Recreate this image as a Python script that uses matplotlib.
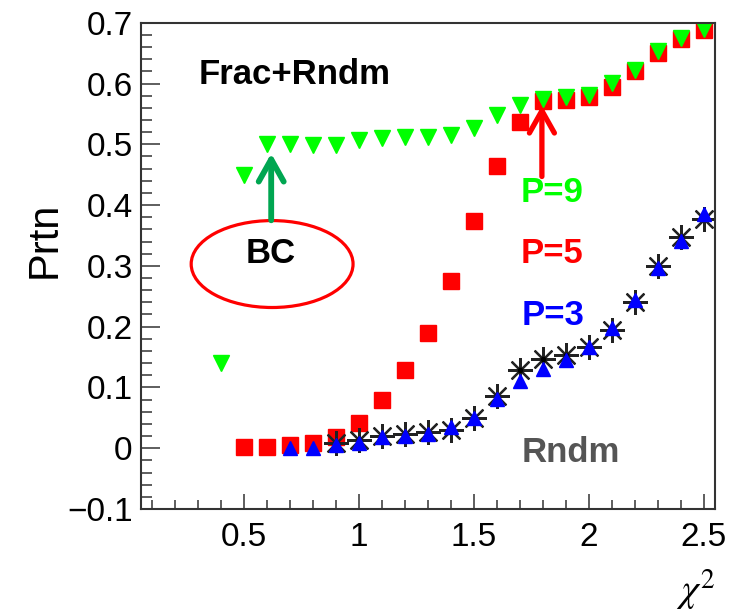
## Prtn vs chi2 for Frac+Rndm

import matplotlib
matplotlib.use('Agg')
import matplotlib.pyplot as plt
from matplotlib.patches import Ellipse
from matplotlib.ticker import MultipleLocator, FuncFormatter

plt.rcParams['font.family'] = ['Liberation Sans', 'DejaVu Sans']
plt.rcParams['mathtext.fontset'] = 'stix'

# P=9 (green)
x_p9 = [0.4, 0.5, 0.6, 0.7, 0.8, 0.9, 1.0, 1.1, 1.2, 1.3, 1.4,
        1.5, 1.6, 1.7, 1.8, 1.9, 2.0, 2.1, 2.2, 2.3, 2.4, 2.5]
y_p9 = [0.140, 0.449, 0.500, 0.500, 0.499, 0.499, 0.507, 0.511, 0.512, 0.512, 0.516,
        0.526, 0.548, 0.565, 0.575, 0.577, 0.581, 0.601, 0.623, 0.653, 0.675, 0.690]

# P=5 (red)
x_p5 = [0.5, 0.6, 0.7, 0.8, 0.9, 1.0, 1.1, 1.2, 1.3, 1.4,
        1.5, 1.6, 1.7, 1.8, 1.9, 2.0, 2.1, 2.2, 2.3, 2.4, 2.5]
y_p5 = [0.002, 0.002, 0.006, 0.009, 0.019, 0.042, 0.079, 0.128, 0.189, 0.275,
        0.374, 0.464, 0.537, 0.571, 0.573, 0.577, 0.595, 0.620, 0.651, 0.673, 0.688]

# P=3 (blue)
x_p3 = [0.7, 0.8, 0.9, 1.0, 1.1, 1.2, 1.3, 1.4, 1.5, 1.6,
        1.7, 1.8, 1.9, 2.0, 2.1, 2.2, 2.3, 2.4, 2.5]
y_p3 = [0.0, 0.0, 0.005, 0.008, 0.018, 0.020, 0.023, 0.035, 0.050, 0.081,
        0.110, 0.131, 0.145, 0.167, 0.197, 0.244, 0.296, 0.341, 0.385]

# Rndm (black stars)
x_rn = [0.9, 1.0, 1.1, 1.2, 1.3, 1.4, 1.5, 1.6, 1.7,
        1.8, 1.9, 2.0, 2.1, 2.2, 2.3, 2.4, 2.5]
y_rn = [0.009, 0.013, 0.020, 0.024, 0.027, 0.030, 0.050, 0.086, 0.128,
        0.147, 0.154, 0.166, 0.194, 0.241, 0.300, 0.347, 0.377]

fig = plt.figure(figsize=(7.36, 6.16), dpi=100)
ax = fig.add_axes([0.1916, 0.1737, 0.7799, 0.7894])

ax.plot(x_p5, y_p5, ls='none', marker='s', ms=11, color='#ff0000', mec='#ff0000')
ax.plot(x_rn, y_rn, ls='none', marker=(8, 2, 0), ms=18, color='#222222', mew=1.6)
ax.plot(x_rn, y_rn, ls='none', marker='o', ms=3, color='black')
ax.plot(x_p3, y_p3, ls='none', marker='^', ms=10, color='#0000ff', mec='#0000ff')
ax.plot(x_p9, y_p9, ls='none', marker='v', ms=11.5, color='#00ff00', mec='#00ff00')

ax.set_xlim(0.05, 2.55)
ax.set_ylim(-0.1, 0.7)

ax.xaxis.set_major_locator(MultipleLocator(0.5))
ax.xaxis.set_minor_locator(MultipleLocator(0.1))
ax.yaxis.set_major_locator(MultipleLocator(0.1))
ax.yaxis.set_minor_locator(MultipleLocator(0.02))

def fmt(v, pos):
    s = '%g' % round(v, 3)
    return s.replace('-', '\u2212')

ax.xaxis.set_major_formatter(FuncFormatter(fmt))
ax.yaxis.set_major_formatter(FuncFormatter(fmt))

ax.tick_params(axis='both', which='both', direction='in', top=False, right=False,
               labelsize=24, colors='#333333', labelcolor='black', width=1.1)
ax.tick_params(axis='y', which='major', length=13.7, pad=6)
ax.tick_params(axis='y', which='minor', length=7.9)
ax.tick_params(axis='x', which='major', length=10.8, pad=9)
ax.tick_params(axis='x', which='minor', length=6.5)
for sp in ax.spines.values():
    sp.set_color('#333333')
    sp.set_linewidth(1.5)

fig.text(45 / 736, 1 - 240 / 616, 'Prtn', rotation=90, ha='center', va='center', fontsize=30)
fig.text(715 / 736, 1 - 602 / 616, r'$\chi^2$', ha='right', va='baseline', fontsize=28)

# annotations
ax.text(0.303, 0.600, 'Frac+Rndm', fontsize=25, fontweight='bold', color='black')
ax.text(1.705, 0.405, 'P=9', fontsize=25, fontweight='bold', color='#00ff00')
ax.text(1.705, 0.304, 'P=5', fontsize=25, fontweight='bold', color='#ff0000')
ax.text(1.708, 0.202, 'P=3', fontsize=25, fontweight='bold', color='#0000ff')
ax.text(1.708, -0.0225, 'Rndm', fontsize=25, fontweight='bold', color='#555555')
ax.text(0.507, 0.304, 'BC', fontsize=25, fontweight='bold', color='black')

ax.add_patch(Ellipse((0.621, 0.303), 0.705, 0.143, fill=False, ec='#ff0000', lw=2.3))

ax.annotate('', xy=(0.617, 0.485), xytext=(0.617, 0.375),
            arrowprops=dict(arrowstyle='->,head_length=0.8,head_width=0.45',
                            lw=4.2, color='#00a651', mutation_scale=20,
                            shrinkA=0, shrinkB=0))
ax.annotate('', xy=(1.796, 0.564), xytext=(1.796, 0.447),
            arrowprops=dict(arrowstyle='->,head_length=0.8,head_width=0.45',
                            lw=3.8, color='#ff0000', mutation_scale=20,
                            shrinkA=0, shrinkB=0))

fig.savefig('out.png', dpi=100)
